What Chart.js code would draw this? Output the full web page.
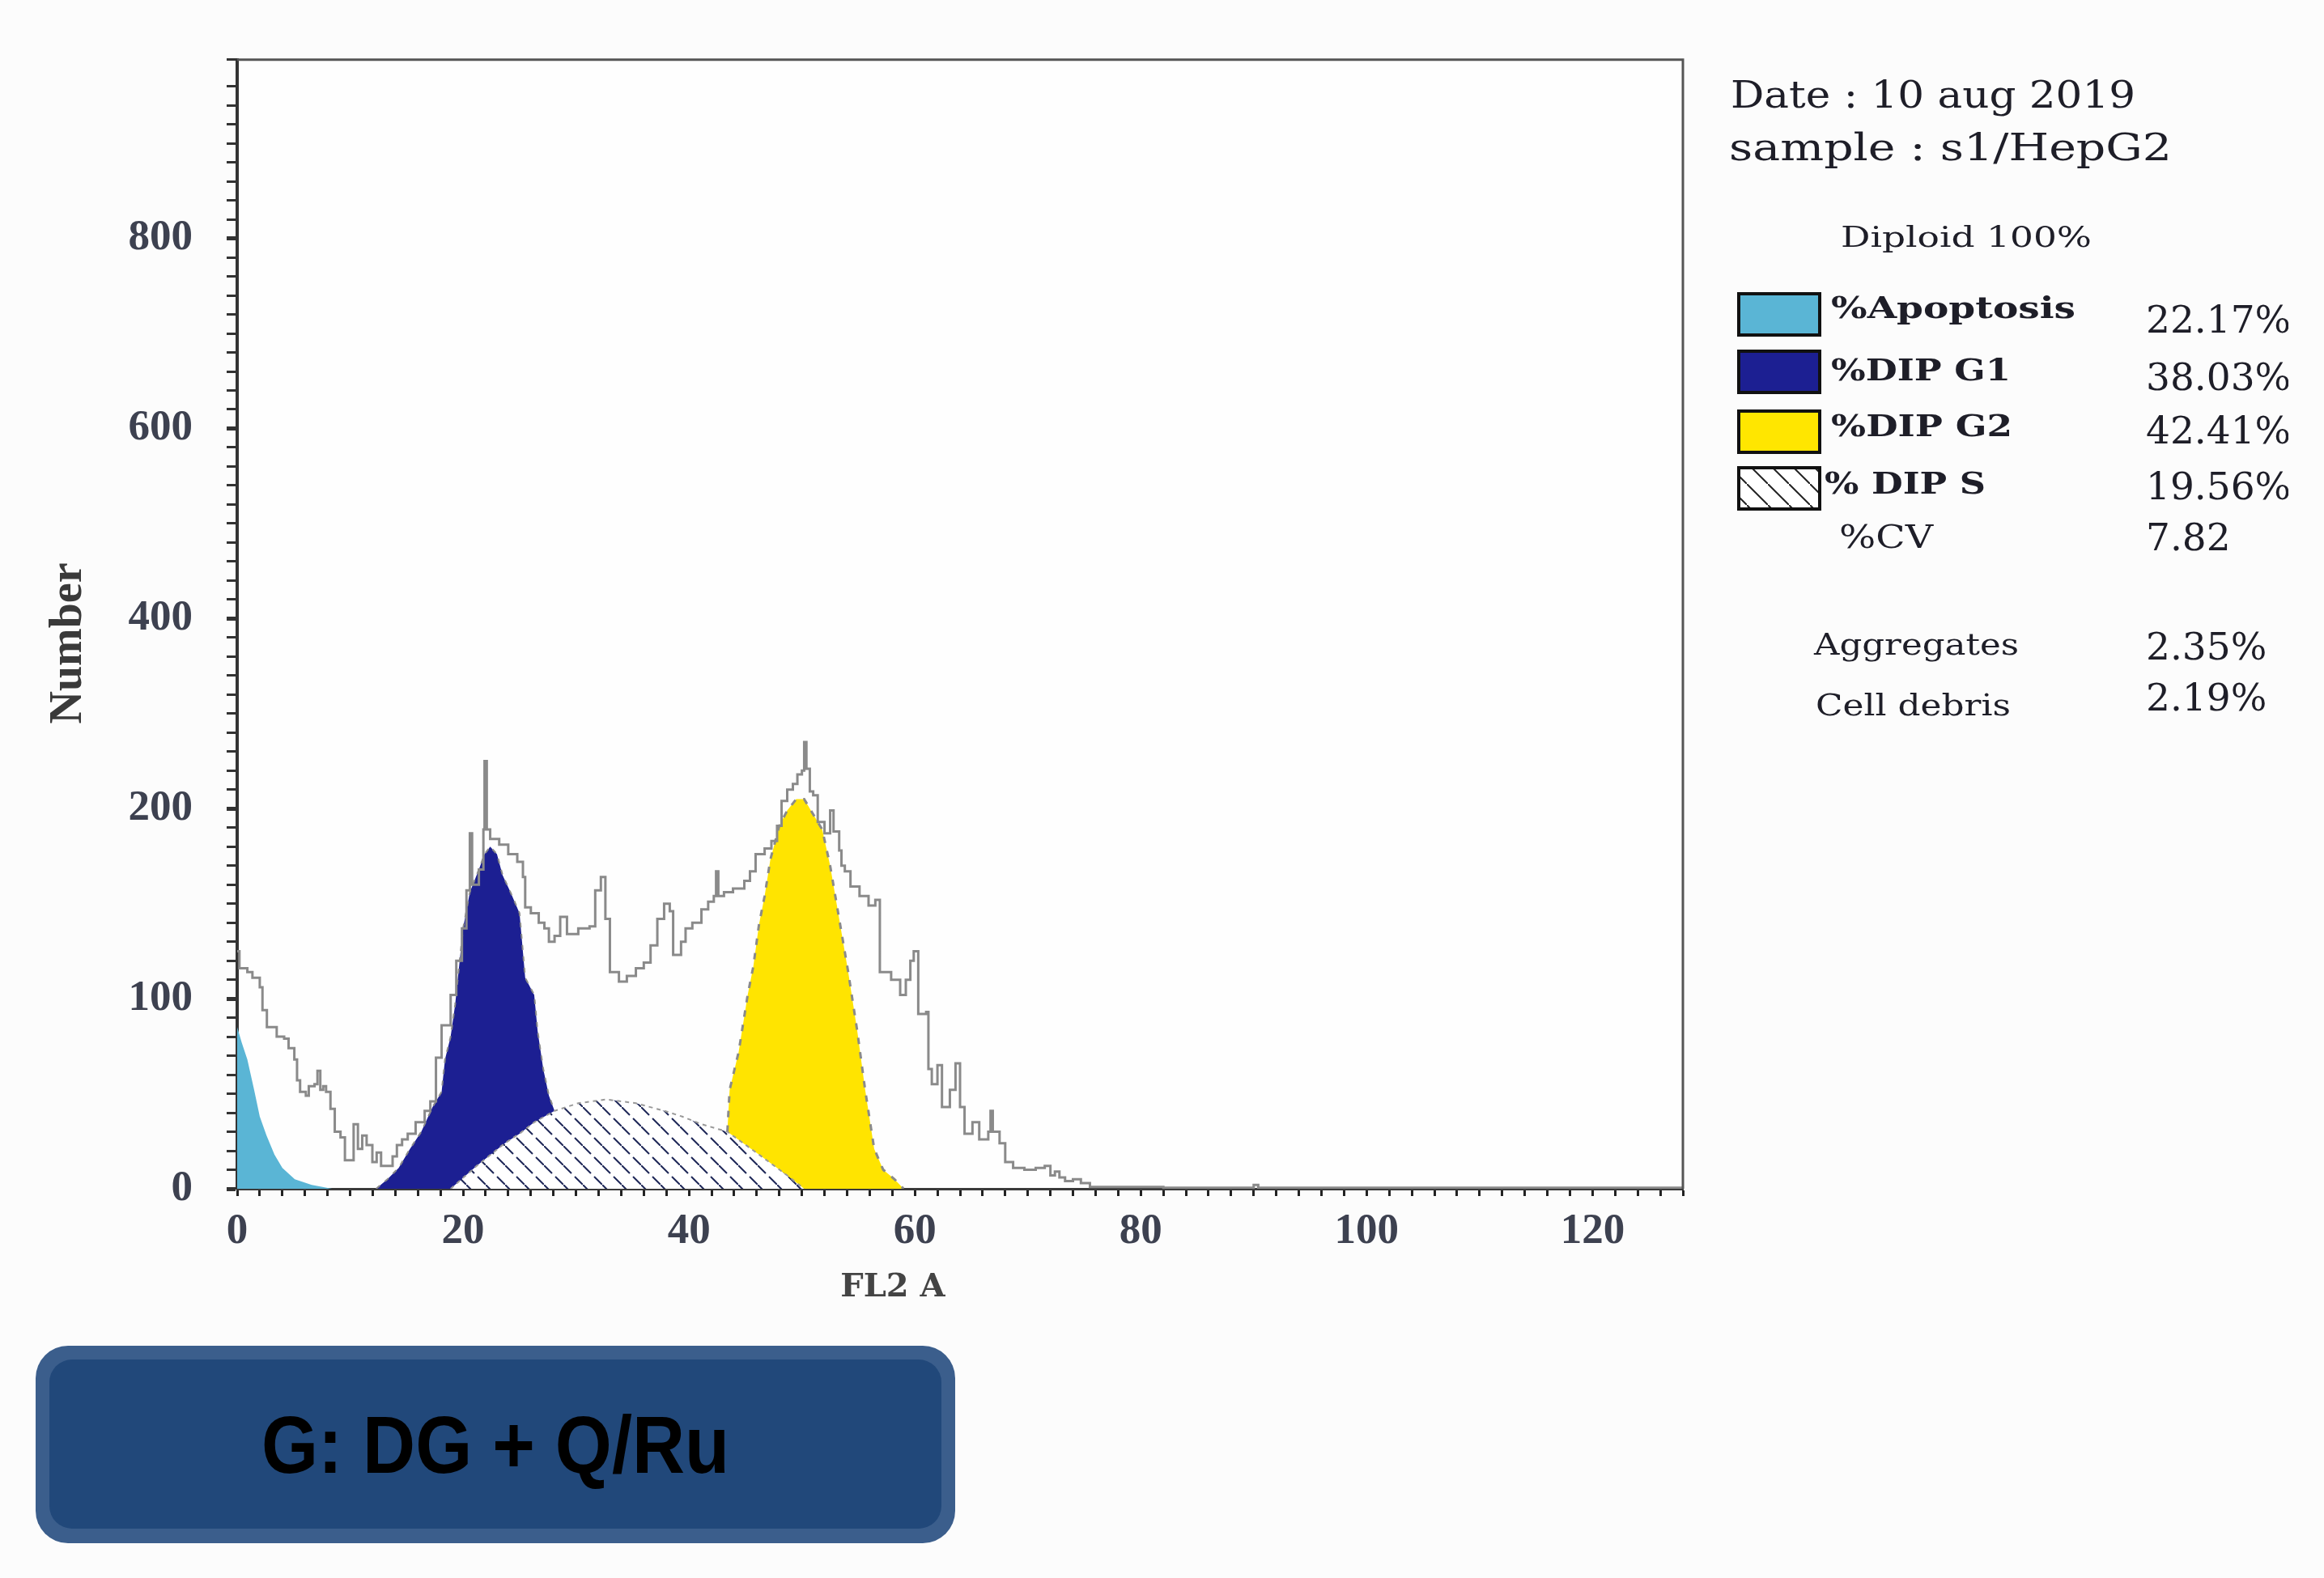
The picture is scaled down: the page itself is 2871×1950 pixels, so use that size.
<!DOCTYPE html>
<html>
<head>
<meta charset="utf-8">
<title>Cell cycle histogram - G: DG + Q/Ru</title>
<script src="https://cdn.jsdelivr.net/npm/chart.js@4.4.1/dist/chart.umd.min.js"></script>
<style>
  html, body { margin: 0; padding: 0; background: #fcfcfc; }
  #wrap { position: relative; width: 2871px; height: 1950px; overflow: hidden; }
  #chartBox { position: absolute; left: 0; top: 0; width: 2871px; height: 1950px; }
  #overlay { position: absolute; left: 0; top: 0; }
</style>
</head>
<body>
<div id="wrap">
  <div id="chartBox"><canvas id="cycleChart"></canvas></div>
  <svg id="overlay" width="2871" height="1950" xmlns="http://www.w3.org/2000/svg">
    <defs>
      <pattern id="hatchBox" width="26" height="26" patternUnits="userSpaceOnUse">
        <rect width="26" height="26" fill="#ffffff"/>
        <path d="M0 0 L26 26" stroke="#222" stroke-width="2"/>
      </pattern>
      <clipPath id="cut"><rect x="0" y="0" width="2827" height="1950"/></clipPath>
    </defs>

    <!-- axis titles -->
    <text transform="translate(100,795) rotate(-90)" text-anchor="middle" font-family="Liberation Serif" font-weight="bold" font-size="56" fill="#3a3a3a">Number</text>
    <text x="1103" y="1602" text-anchor="middle" font-family="DejaVu Serif" font-weight="bold" font-size="40" fill="#444">FL2 A</text>

    <!-- side panel -->
    <g font-family="DejaVu Serif" fill="#1e1e28">
      <text x="2138" y="133" font-size="46" textLength="500" lengthAdjust="spacingAndGlyphs">Date : 10 aug 2019</text>
      <text x="2136" y="198" font-size="46" textLength="547" lengthAdjust="spacingAndGlyphs">sample : s1/HepG2</text>
      <text x="2274" y="305" font-size="36" textLength="310" lengthAdjust="spacingAndGlyphs">Diploid 100%</text>

      <rect x="2148" y="363" width="100" height="51" fill="#5ab5d5" stroke="#111" stroke-width="4"/>
      <rect x="2148" y="434" width="100" height="51" fill="#1c1f92" stroke="#111" stroke-width="4"/>
      <rect x="2148" y="508" width="100" height="51" fill="#ffe600" stroke="#111" stroke-width="4"/>
      <rect x="2148" y="578" width="100" height="51" fill="url(#hatchBox)" stroke="#111" stroke-width="4"/>

      <g font-weight="bold" font-size="37">
        <text x="2262" y="393" textLength="302" lengthAdjust="spacingAndGlyphs">%Apoptosis</text>
        <text x="2262" y="470" textLength="222" lengthAdjust="spacingAndGlyphs">%DIP G1</text>
        <text x="2262" y="539" textLength="224" lengthAdjust="spacingAndGlyphs">%DIP G2</text>
        <text x="2254" y="610" textLength="199" lengthAdjust="spacingAndGlyphs">% DIP S</text>
      </g>
      <text x="2272" y="677" font-size="39" textLength="116" lengthAdjust="spacingAndGlyphs">%CV</text>
      <text x="2241" y="809" font-size="37" textLength="253" lengthAdjust="spacingAndGlyphs">Aggregates</text>
      <text x="2243" y="884" font-size="37" textLength="241" lengthAdjust="spacingAndGlyphs">Cell debris</text>

      <g font-size="47" clip-path="url(#cut)">
        <text x="2651" y="411">22.17%</text>
        <text x="2651" y="482">38.03%</text>
        <text x="2651" y="548">42.41%</text>
        <text x="2651" y="617">19.56%</text>
        <text x="2651" y="680">7.82</text>
        <text x="2651" y="815">2.35%</text>
        <text x="2651" y="878">2.19%</text>
      </g>
    </g>

    <!-- panel label -->
    <rect x="44" y="1663" width="1136" height="244" rx="40" fill="#3b5e8c"/>
    <rect x="61" y="1680" width="1102" height="209" rx="28" fill="#21487a"/>
    <text x="612" y="1820" text-anchor="middle" font-family="Liberation Sans Narrow, Liberation Sans" font-weight="bold" font-size="100" textLength="578" lengthAdjust="spacingAndGlyphs" fill="#000">G: DG + Q/Ru</text>
  </svg>
</div>

<script>
// tick labels as printed on the cytometer plot (evenly spaced on the axis)
const yTickLabels = ['0', '100', '200', '400', '600', '800'];
const xTickLabels = ['0', '20', '40', '60', '80', '100', '120'];

// grey raw FL2-A histogram trace
const rawChannel = [0, 0.2, 0.9, 1.35, 2.0, 2.24, 2.63, 3.5, 4.16, 4.55, 5.06, 5.3, 5.57, 6.08, 6.34, 6.85, 7.11, 7.36, 7.62, 7.87,
  8.26, 8.64, 9.15, 9.54, 10.31, 10.69, 11.07, 11.46, 11.97, 12.35, 12.74, 13.76, 14.14, 14.6, 15.1, 15.8, 16.6, 17.1, 17.6, 18.1,
  18.9, 19.4, 19.9, 20.3, 20.6, 20.8, 21.4, 21.8, 21.9, 22.1, 22.4, 23.2, 24.0, 24.8, 25.3, 25.5, 26.0, 26.7, 27.2, 27.6,
  28.1, 28.6, 29.2, 30.2, 31.2, 31.7, 32.2, 32.6, 33.0, 33.8, 34.5, 35.3, 36.0, 36.6, 37.2, 37.8, 38.3, 38.6, 39.3, 39.7,
  40.3, 41.1, 41.7, 42.2, 42.4, 42.6, 43.1, 43.9, 44.9, 45.4, 45.9, 46.7, 47.3, 47.8, 48.2, 48.7, 49.2, 49.6, 50.0, 50.2,
  50.4, 50.7, 51.0, 51.4, 52.0, 52.5, 52.8, 53.3, 53.5, 53.8, 54.3, 55.1, 55.9, 56.5, 56.9, 57.9, 58.7, 59.2, 59.6, 59.9,
  60.3, 61.0, 61.2, 61.5, 62.0, 62.4, 63.1, 63.6, 64.0, 64.4, 65.1, 65.7, 66.5, 66.7, 66.9, 67.5, 68.0, 68.7, 69.7, 70.7,
  71.5, 72.0, 72.4, 72.8, 73.3, 74.0, 74.7, 75.5, 82, 89.6, 90.0, 90.4, 128];
const rawCount = [125, 116, 114, 111, 106, 94, 85, 80, 79, 74, 68, 57, 51, 49, 54, 55, 62, 52, 54, 51,
  42, 30, 27, 15, 34, 21, 28, 23, 14, 19, 12, 17, 23, 26, 29, 35, 41, 46, 69, 86,
  102, 120, 137, 157, 187, 160, 168, 189, 225, 189, 184, 181, 176, 172, 164, 148, 145, 140, 137, 130,
  133, 143, 134, 137, 138, 157, 164, 142, 114, 109, 112, 116, 119, 128, 142, 150, 146, 123, 130, 137,
  140, 147, 151, 154, 167, 154, 156, 158, 162, 167, 176, 179, 183, 191, 204, 210, 213, 218, 220, 235,
  221, 209, 207, 193, 187, 199, 188, 178, 170, 167, 159, 154, 149, 152, 114, 110, 102, 110, 120, 125,
  92, 93, 63, 55, 65, 43, 52, 66, 43, 29, 35, 26, 30, 41, 30, 24, 14, 11, 10, 11,
  12, 7, 9, 6, 4, 5, 3, 1, 0.5, 0.5, 2, 0.5, 0.5];

// apoptosis (sub-G1) fit
const apoChannel = [0, 0.4, 0.9, 1.5, 2.0, 2.6, 3.3, 4.0, 5.1, 6.6, 8.4];
const apoCount = [85, 77, 68, 52, 38, 28, 18, 11, 5, 2, 0];

// diploid G1 fit (outline, sits on top of S)
const g1Channel = [12.3, 13.3, 14.3, 15.3, 16.3, 17.3, 18.1, 18.4, 18.9, 19.3, 19.7, 20.0, 20.6, 21.4, 21.9, 22.4, 23.0, 23.5,
  24.2, 25.0, 25.5, 26.3, 26.6, 27.1, 27.6, 28.1];
const g1Count = [0, 5, 11, 21, 30, 43, 51, 68, 80, 97, 120, 137, 156, 168, 176, 180, 176, 165, 156, 145, 111, 102, 83, 63, 49, 41];

// diploid G2 fit (outline, sits on top of S)
const g2Channel = [43.4, 43.6, 44.4, 45.2, 45.7, 46.2, 46.7, 47.2, 48.0, 48.7, 49.5, 50.2, 51.0, 51.8, 52.5, 53.3, 54.1, 54.9,
  55.6, 56.4, 57.2, 58.2, 59.0];
const g2Count = [30, 52, 72, 102, 117, 139, 154, 173, 191, 199, 205, 205, 197, 189, 170, 142, 114, 83, 52, 21, 10, 5, 0];

// diploid S phase fit
const sChannel = [18.9, 21.2, 23.7, 25.0, 26.3, 28.1, 30.2, 32.7, 35.3, 37.8, 39.4, 41.1, 43.4, 46.2, 48.7, 50.2];
const sCount = [0, 12, 24, 29, 35, 41, 45, 47, 45, 41, 38, 34, 30, 18, 7, 0];

const pts = (xs, ys) => xs.map((x, i) => ({ x: x, y: ys[i] }));

function makeHatch() {
  const c = document.createElement('canvas');
  c.width = 24; c.height = 24;
  const g = c.getContext('2d');
  g.fillStyle = '#ffffff';
  g.fillRect(0, 0, 24, 24);
  g.strokeStyle = '#1f2858';
  g.lineWidth = 2;
  g.beginPath();
  g.moveTo(0, 0); g.lineTo(10, 10);
  g.moveTo(14, 14); g.lineTo(24, 24);
  g.stroke();
  return g.createPattern(c, 'repeat');
}

// plot background + top/right frame lines
const framePlugin = {
  id: 'frame',
  beforeDraw(chart) {
    const { ctx, chartArea: a } = chart;
    ctx.save();
    ctx.fillStyle = '#fefefe';
    ctx.fillRect(a.left, a.top, a.width, a.height);
    ctx.restore();
  },
  afterDraw(chart) {
    const { ctx, chartArea: a } = chart;
    ctx.save();
    ctx.strokeStyle = '#555';
    ctx.lineWidth = 3;
    ctx.beginPath();
    ctx.moveTo(a.left, a.top);
    ctx.lineTo(a.right, a.top);
    ctx.lineTo(a.right, a.bottom);
    ctx.stroke();
    ctx.restore();
  }
};

const tickFont = { family: 'Liberation Serif', weight: 'bold', size: 53 };

const ctx = document.getElementById('cycleChart').getContext('2d');
new Chart(ctx, {
  type: 'line',
  data: {
    datasets: [
      {
        label: 'FL2-A',
        data: pts(rawChannel, rawCount),
        borderColor: '#8a8a8a',
        borderWidth: 3,
        stepped: true,
        fill: false,
        order: 0
      },
      {
        label: '%Apoptosis',
        data: pts(apoChannel, apoCount),
        backgroundColor: '#5ab5d5',
        borderWidth: 0,
        fill: 'origin',
        order: 1
      },
      {
        label: '% DIP S',
        data: pts(sChannel, sCount),
        backgroundColor: makeHatch(),
        borderColor: '#999',
        borderWidth: 2,
        borderDash: [5, 5],
        fill: 'origin',
        order: 2
      },
      {
        label: '%DIP G1',
        data: pts(g1Channel, g1Count),
        backgroundColor: '#1c1f92',
        borderColor: '#8a8a8a',
        borderWidth: 2,
        borderDash: [6, 8],
        fill: 'origin',
        order: 3
      },
      {
        label: '%DIP G2',
        data: pts(g2Channel, g2Count),
        backgroundColor: '#ffe400',
        borderColor: '#8a8a8a',
        borderWidth: 3,
        borderDash: [8, 10],
        fill: 'origin',
        order: 3
      }
    ]
  },
  options: {
    responsive: true,
    maintainAspectRatio: false,
    animation: false,
    layout: { padding: { left: 0, top: 73, right: 792, bottom: 0 } },
    elements: { point: { radius: 0 }, line: { tension: 0 } },
    plugins: {
      legend: { display: false },
      tooltip: { enabled: false }
    },
    scales: {
      x: {
        type: 'linear',
        min: 0,
        max: 128,
        afterFit: (s) => { s.height = 481; },
        border: { color: '#3a3a3a', width: 3 },
        grid: { drawOnChartArea: false, tickLength: 9, tickWidth: 3, color: '#222' },
        ticks: {
          stepSize: 2,
          autoSkip: false,
          maxRotation: 0,
          padding: 13,
          color: '#3d4150',
          font: tickFont,
          callback: (v) => (v % 20 === 0 ? xTickLabels[v / 20] : '')
        }
      },
      y: {
        type: 'linear',
        min: 0,
        max: 594,
        afterFit: (s) => { s.width = 293; },
        border: { color: '#333', width: 4 },
        grid: {
          drawOnChartArea: false,
          tickLength: 13,
          tickWidth: (c) => (c.tick && c.tick.value % 100 === 0 ? 5 : 3),
          color: '#333'
        },
        ticks: {
          stepSize: 10,
          autoSkip: false,
          padding: 42,
          color: '#3d4150',
          font: tickFont,
          callback: (v) => (v % 100 === 0 ? yTickLabels[v / 100] : '')
        }
      }
    }
  },
  plugins: [framePlugin]
});
</script>
</body>
</html>
